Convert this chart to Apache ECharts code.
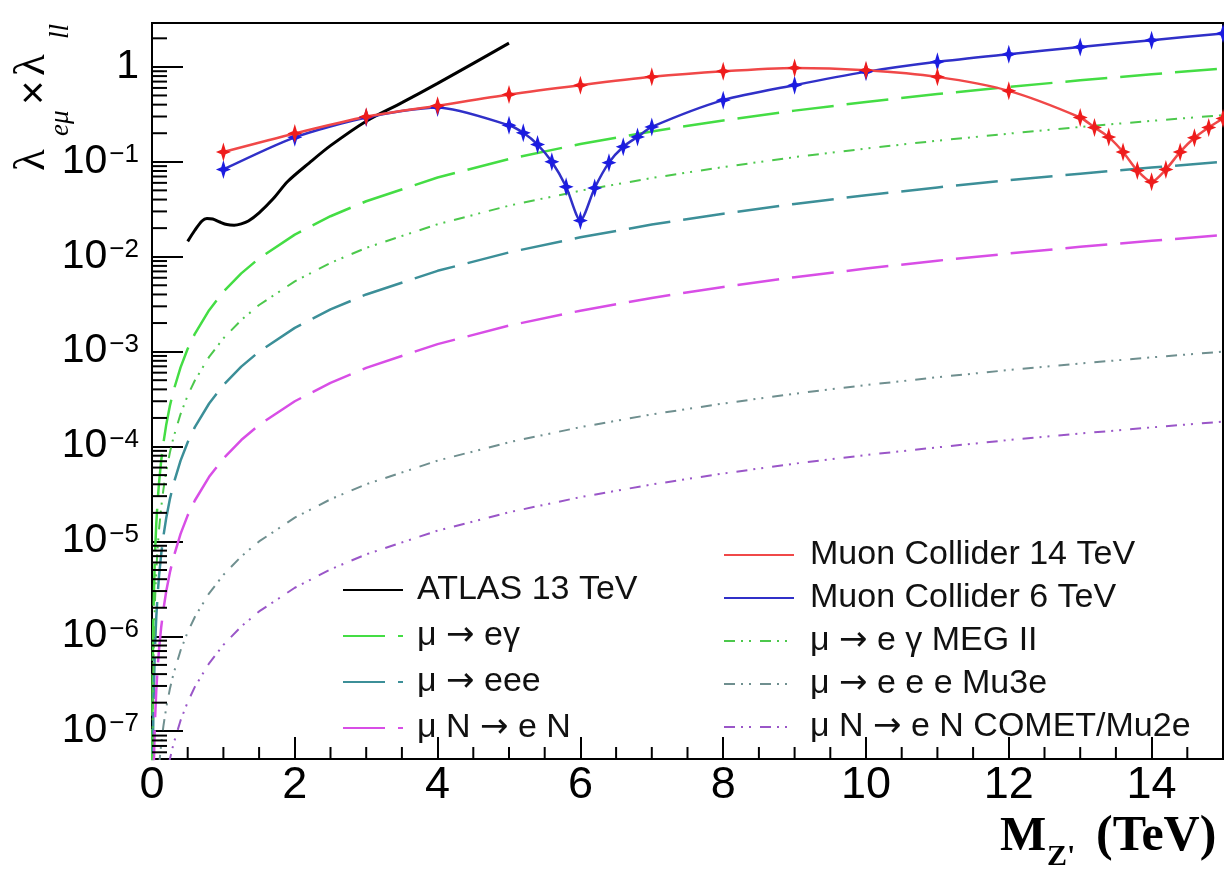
<!DOCTYPE html>
<html>
<head>
<meta charset="utf-8">
<title>Z' lepton flavour violation reach</title>
<script src="https://cdn.jsdelivr.net/npm/echarts@6/dist/echarts.min.js"></script>
<style>
    html, body { margin: 0; padding: 0; background: #fff; }
    #chart { width: 1224px; height: 869px; }
</style>
</head>
<body>
<div id="chart"></div>
<script>
// values (x in TeV, y = lambda_emu * lambda_ll)
var atlasX = [0.5, 0.6, 0.7, 0.77, 0.85, 0.95, 1.05, 1.15, 1.25, 1.35, 1.5, 1.7, 1.9, 2.2, 2.5, 3.0, 3.5, 4.0, 4.5, 5.0];
var atlasY = [0.0145, 0.019, 0.0238, 0.0253, 0.025, 0.0232, 0.0218, 0.0215, 0.0222, 0.0238, 0.029, 0.041, 0.062, 0.097, 0.148, 0.268, 0.42, 0.67, 1.09, 1.78];

var mc14X = [1, 2, 3, 4, 5, 6, 7, 8, 9, 10, 11, 12, 13, 13.2, 13.4, 13.6, 13.8, 14, 14.2, 14.4, 14.6, 14.8, 15];
var mc14Y = [0.127, 0.199, 0.298, 0.39, 0.512, 0.641, 0.785, 0.90, 0.976, 0.923, 0.785, 0.559, 0.293, 0.230, 0.182, 0.127, 0.081, 0.0616, 0.083, 0.127, 0.179, 0.230, 0.286];

var mc6X = [1, 2, 3, 4, 5, 5.2, 5.4, 5.6, 5.8, 6, 6.2, 6.4, 6.6, 6.8, 7, 8, 9, 10, 11, 12, 13, 14, 15];
var mc6Y = [0.083, 0.181, 0.293, 0.374, 0.243, 0.202, 0.152, 0.100, 0.0545, 0.024, 0.053, 0.098, 0.144, 0.183, 0.233, 0.446, 0.642, 0.886, 1.13, 1.36, 1.62, 1.91, 2.25];

// low energy bounds, all sampled on the same masses
var boundX = [0.003, 0.005, 0.01, 0.02, 0.04, 0.06, 0.08, 0.1, 0.13, 0.16, 0.2, 0.25, 0.3, 0.4, 0.5, 0.6, 0.8, 1, 1.25, 1.5, 2, 2.5, 3, 4, 5, 6, 7, 8, 9, 10, 11, 12, 13, 14, 15];
var egNowY = [3.84e-8, 1.07e-7, 4.27e-7, 1.71e-6, 6.83e-6, 1.54e-5, 2.73e-5, 4.27e-5, 7.22e-5, 1.09e-4, 1.71e-4, 2.67e-4, 3.84e-4, 6.83e-4, 1.07e-3, 1.54e-3, 2.73e-3, 4.27e-3, 6.67e-3, 9.6e-3, 0.0171, 0.0267, 0.0384, 0.0683, 0.107, 0.154, 0.209, 0.273, 0.346, 0.427, 0.517, 0.615, 0.722, 0.837, 0.96];
var eeeNowY = [4.0e-9, 1.11e-8, 4.44e-8, 1.78e-7, 7.1e-7, 1.6e-6, 2.84e-6, 4.44e-6, 7.5e-6, 1.14e-5, 1.78e-5, 2.78e-5, 4.0e-5, 7.1e-5, 1.11e-4, 1.6e-4, 2.84e-4, 4.44e-4, 6.94e-4, 1.0e-3, 1.78e-3, 2.78e-3, 4.0e-3, 7.1e-3, 0.0111, 0.016, 0.0218, 0.0284, 0.036, 0.0444, 0.0537, 0.064, 0.075, 0.087, 0.1];
var convNowY = [6.75e-10, 1.88e-9, 7.5e-9, 3.0e-8, 1.2e-7, 2.7e-7, 4.8e-7, 7.5e-7, 1.27e-6, 1.92e-6, 3.0e-6, 4.69e-6, 6.75e-6, 1.2e-5, 1.88e-5, 2.7e-5, 4.8e-5, 7.5e-5, 1.17e-4, 1.69e-4, 3.0e-4, 4.69e-4, 6.75e-4, 1.2e-3, 1.88e-3, 2.7e-3, 3.68e-3, 4.8e-3, 6.08e-3, 7.5e-3, 9.08e-3, 0.0108, 0.0127, 0.0147, 0.0169];
var egFutY = [1.24e-8, 3.45e-8, 1.38e-7, 5.5e-7, 2.2e-6, 4.96e-6, 8.8e-6, 1.38e-5, 2.33e-5, 3.53e-5, 5.5e-5, 8.6e-5, 1.24e-4, 2.2e-4, 3.45e-4, 4.96e-4, 8.8e-4, 1.38e-3, 2.15e-3, 3.1e-3, 5.5e-3, 8.6e-3, 0.0124, 0.022, 0.0345, 0.0496, 0.0675, 0.088, 0.112, 0.138, 0.167, 0.198, 0.233, 0.27, 0.31];
var eeeFutY = [4.0e-11, 1.11e-10, 4.44e-10, 1.78e-9, 7.1e-9, 1.6e-8, 2.84e-8, 4.44e-8, 7.5e-8, 1.14e-7, 1.78e-7, 2.78e-7, 4.0e-7, 7.1e-7, 1.11e-6, 1.6e-6, 2.84e-6, 4.44e-6, 6.94e-6, 1.0e-5, 1.78e-5, 2.78e-5, 4.0e-5, 7.1e-5, 1.11e-4, 1.6e-4, 2.18e-4, 2.84e-4, 3.6e-4, 4.44e-4, 5.37e-4, 6.4e-4, 7.5e-4, 8.7e-4, 1.0e-3];
var convFutY = [7.3e-12, 2.03e-11, 8.13e-11, 3.25e-10, 1.3e-9, 2.93e-9, 5.2e-9, 8.13e-9, 1.37e-8, 2.08e-8, 3.25e-8, 5.08e-8, 7.3e-8, 1.3e-7, 2.03e-7, 2.93e-7, 5.2e-7, 8.13e-7, 1.27e-6, 1.83e-6, 3.25e-6, 5.08e-6, 7.3e-6, 1.3e-5, 2.03e-5, 2.93e-5, 3.98e-5, 5.2e-5, 6.6e-5, 8.13e-5, 9.8e-5, 1.17e-4, 1.37e-4, 1.59e-4, 1.83e-4];

// axes
var xMin = 0, xMax = 15;
var yMin = 5.1e-8, yMax = 2.9;
var yDecades = [-7, -6, -5, -4, -3, -2, -1, 0];
var xMinorTicks = [0.5, 1, 1.5, 2.5, 3, 3.5, 4.5, 5, 5.5, 6.5, 7, 7.5, 8.5, 9, 9.5, 10.5, 11, 11.5, 12.5, 13, 13.5, 14.5];
var yMinorSteps = [2, 3, 4, 5, 6, 7, 8, 9];

var legendLeft = ['ATLAS 13 TeV', 'μ → eγ', 'μ → eee', 'μ N → e N'];
var legendRight = ['Muon Collider 14 TeV', 'Muon Collider 6 TeV', 'μ → e γ MEG II', 'μ → e e e Mu3e', 'μ N → e N COMET/Mu2e'];

function pairs(xs, ys) {
    return xs.map(function (x, i) { return [x, ys[i]]; });
}

// minor ticks as [x, y, dir]  (dir 0: on y axis, 1: on x axis)
var minorTicks = [];
xMinorTicks.forEach(function (x) { minorTicks.push([x, yMin, 1]); });
for (var d = -8; d <= 0; d++) {
    yMinorSteps.forEach(function (k) {
        var v = k * Math.pow(10, d);
        if (v > yMin && v < yMax) minorTicks.push([0, v, 0]);
    });
}

var LONG_DASH = [42, 13];
var DASH_DOT_DOT = [11, 6, 2, 6, 2, 9];
var STAR = 'path://M0,-10 L2.3,-2.3 L8,0 L2.3,2.3 L0,10 L-2.3,2.3 L-8,0 L-2.3,-2.3 Z';

function boundLine(name, ys, color, dash, width) {
    return {
        name: name,
        type: 'line',
        data: pairs(boundX, ys),
        symbol: 'none',
        clip: true,
        z: 2,
        lineStyle: { color: color, width: width, type: dash },
        itemStyle: { color: color }
    };
}

var labelFont = 'Liberation Sans, Arial, sans-serif';

function legendTextStyle(padLeft) {
    return {
        fontSize: 34,
        fontFamily: labelFont,
        color: '#111',
        lineHeight: 36,
        padding: [0, 0, 0, padLeft],
        rich: {
            a: { fontSize: 34, fontFamily: 'DejaVu Sans, sans-serif', color: '#111', lineHeight: 36 }
        }
    };
}
function legendFormatter(name) {
    return name.replace('→', '{a|→}');
}
// legend shows only the line sample, no marker
var legendNoSymbol = { color: 'rgba(0,0,0,0)', borderWidth: 0, opacity: 0 };

var chart = echarts.init(document.getElementById('chart'));
chart.setOption({
    animation: false,
    backgroundColor: '#fff',
    grid: {
        left: 152,
        top: 23,
        right: 1,
        bottom: 110,
        show: true,
        borderColor: '#000',
        borderWidth: 2,
        backgroundColor: 'rgba(0,0,0,0)',
        outerBoundsMode: 'none'
    },
    xAxis: {
        type: 'value',
        min: xMin,
        max: xMax,
        interval: 2,
        axisLine: { onZero: false, lineStyle: { color: '#000', width: 2 } },
        axisTick: { inside: true, length: 22, lineStyle: { color: '#000', width: 2 } },
        axisLabel: {
            margin: 4,
            fontSize: 45,
            fontFamily: labelFont,
            color: '#000',
            showMaxLabel: false
        },
        splitLine: { show: false }
    },
    yAxis: {
        type: 'log',
        logBase: 10,
        min: yMin,
        max: yMax,
        axisLine: { show: true, lineStyle: { color: '#000', width: 2 } },
        axisTick: { show: true, inside: true, length: 31, lineStyle: { color: '#000', width: 2 } },
        axisLabel: {
            margin: 13,
            showMinLabel: false,
            showMaxLabel: false,
            formatter: function (v) {
                var e = Math.round(Math.log10(v));
                if (yDecades.indexOf(e) < 0) return '';
                if (e === 0) return '{b|1}';
                return '{b|10}{s|−' + (-e) + '}';
            },
            rich: {
                b: { fontSize: 41, fontFamily: labelFont, color: '#000', lineHeight: 40, verticalAlign: 'bottom' },
                s: { fontSize: 26, fontFamily: labelFont, color: '#000', lineHeight: 24, verticalAlign: 'top', padding: [0, 0, 23, 2] }
            }
        },
        splitLine: { show: false }
    },
    legend: [
        {
            data: legendLeft,
            orient: 'vertical',
            left: 342,
            top: 572,
            padding: 0,
            itemWidth: 60,
            itemHeight: 14,
            itemGap: 10,
            selectedMode: false,
            itemStyle: legendNoSymbol,
            formatter: legendFormatter,
            textStyle: legendTextStyle(9)
        },
        {
            data: legendRight,
            orient: 'vertical',
            left: 723,
            top: 537,
            padding: 0,
            itemWidth: 70,
            itemHeight: 14,
            itemGap: 7,
            selectedMode: false,
            itemStyle: legendNoSymbol,
            formatter: legendFormatter,
            textStyle: legendTextStyle(11)
        }
    ],
    graphic: [
        // y axis title: lambda_{e mu} x lambda_{ll}
        { type: 'text', x: 32, y: 171, rotation: Math.PI / 2, style: { text: 'λ', font: '45px "Liberation Serif", serif', fill: '#000', textAlign: 'left', textVerticalAlign: 'middle' } },
        { type: 'text', x: 61, y: 136, rotation: Math.PI / 2, style: { text: 'eμ', font: 'italic 27px "Liberation Serif", serif', fill: '#000', textAlign: 'left', textVerticalAlign: 'middle' } },
        { type: 'text', x: 35, y: 105, rotation: Math.PI / 2, style: { text: '×', font: '42px "Liberation Sans", sans-serif', fill: '#000', textAlign: 'left', textVerticalAlign: 'middle' } },
        { type: 'text', x: 32, y: 76, rotation: Math.PI / 2, style: { text: 'λ', font: '45px "Liberation Serif", serif', fill: '#000', textAlign: 'left', textVerticalAlign: 'middle' } },
        { type: 'text', x: 61, y: 39, rotation: Math.PI / 2, style: { text: 'll', font: 'italic 27px "Liberation Serif", serif', fill: '#000', textAlign: 'left', textVerticalAlign: 'middle' } },
        // x axis title: M_{Z'} (TeV)
        { type: 'text', x: 1000, y: 837, style: { text: 'M', font: 'bold 49px "Liberation Serif", serif', fill: '#000', textAlign: 'left', textVerticalAlign: 'middle' } },
        { type: 'text', x: 1047, y: 857, style: { text: "Z'", font: 'bold 30px "Liberation Serif", serif', fill: '#000', textAlign: 'left', textVerticalAlign: 'middle' } },
        { type: 'text', x: 1096, y: 837, style: { text: '(TeV)', font: 'bold 50px "Liberation Serif", serif', fill: '#000', textAlign: 'left', textVerticalAlign: 'middle' } }
    ],
    series: [
        boundLine('μ → eγ', egNowY, '#44dd44', LONG_DASH, 2.5),
        boundLine('μ → eee', eeeNowY, '#3c8f98', LONG_DASH, 2.5),
        boundLine('μ N → e N', convNowY, '#d84ee6', LONG_DASH, 2.5),
        boundLine('μ → e γ MEG II', egFutY, '#4cc84c', DASH_DOT_DOT, 2),
        boundLine('μ → e e e Mu3e', eeeFutY, '#6f8f8f', DASH_DOT_DOT, 2),
        boundLine('μ N → e N COMET/Mu2e', convFutY, '#9a56c8', DASH_DOT_DOT, 2),
        {
            name: 'ATLAS 13 TeV',
            type: 'line',
            data: pairs(atlasX, atlasY),
            symbol: 'none',
            smooth: 0.3,
            z: 3,
            lineStyle: { color: '#000', width: 3 },
            itemStyle: { color: '#000' }
        },
        {
            name: 'Muon Collider 6 TeV',
            type: 'line',
            data: pairs(mc6X, mc6Y),
            symbol: 'none',
            smooth: 0.25,
            z: 3,
            lineStyle: { color: '#3030c8', width: 2.5 },
            itemStyle: { color: '#3030c8' }
        },
        {
            name: 'Muon Collider 14 TeV',
            type: 'line',
            data: pairs(mc14X, mc14Y),
            symbol: 'none',
            smooth: 0.25,
            z: 3,
            lineStyle: { color: '#f04848', width: 2.5 },
            itemStyle: { color: '#f04848' }
        },
        {
            name: 'mc6 markers',
            type: 'scatter',
            data: pairs(mc6X, mc6Y),
            symbol: STAR,
            symbolSize: [15, 19],
            z: 4,
            itemStyle: { color: '#1c1ce0', opacity: 1 }
        },
        {
            name: 'mc14 markers',
            type: 'scatter',
            data: pairs(mc14X, mc14Y),
            symbol: STAR,
            symbolSize: [15, 19],
            z: 4,
            itemStyle: { color: '#ee1c1c', opacity: 1 }
        },
        {
            name: 'minor ticks',
            type: 'custom',
            silent: true,
            clip: false,
            z: 5,
            data: minorTicks,
            renderItem: function (params, api) {
                var p = api.coord([api.value(0), api.value(1)]);
                var onX = api.value(2) === 1;
                return {
                    type: 'line',
                    shape: onX
                        ? { x1: p[0], y1: p[1], x2: p[0], y2: p[1] - 12 }
                        : { x1: p[0], y1: p[1], x2: p[0] + 15, y2: p[1] },
                    style: { stroke: '#000', lineWidth: 2 }
                };
            }
        }
    ]
});
</script>
</body>
</html>
